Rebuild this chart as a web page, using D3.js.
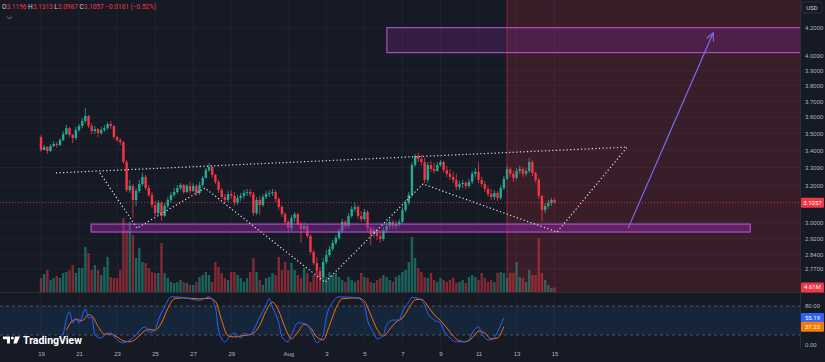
<!DOCTYPE html>
<html>
<head>
<meta charset="utf-8">
<script src="https://cdn.jsdelivr.net/npm/d3@7"></script>
<style>
  html, body { margin: 0; background: #161a25; }
  svg { display: block; font-family: Roboto, 'DejaVu Sans', sans-serif; }
</style>
</head>
<body>
<svg id="chart" width="825" height="362"></svg>
<script>
// 4h candles, index 0 = Jul 19 00:00
const firstOpen = 3.478;
const closes = [3.401,3.418,3.395,3.424,3.436,3.430,3.460,3.496,3.532,3.490,
  3.472,3.520,3.545,3.576,3.607,3.545,3.514,3.526,3.502,3.520,
  3.532,3.557,3.545,3.478,3.460,3.448,3.331,3.174,3.196,3.120,
  3.169,3.207,3.247,3.185,3.147,3.093,3.050,3.104,3.035,3.088,
  3.120,3.147,3.163,3.185,3.202,3.163,3.196,3.169,3.196,3.158,
  3.202,3.241,3.285,3.303,3.258,3.219,3.174,3.136,3.120,3.152,
  3.142,3.104,3.131,3.142,3.158,3.163,3.152,3.050,3.120,3.093,
  3.136,3.152,3.158,3.163,3.125,3.083,3.045,3.004,2.972,3.025,
  3.045,2.993,2.967,2.983,2.932,2.852,2.798,2.760,2.731,2.803,
  2.837,2.867,2.897,2.922,2.957,3.004,2.983,3.035,3.072,3.083,
  3.035,3.019,3.056,2.972,2.942,2.962,2.932,2.917,2.962,2.983,
  3.004,2.983,2.993,3.004,3.066,3.104,3.147,3.314,3.366,3.349,
  3.331,3.230,3.314,3.291,3.280,3.314,3.331,3.285,3.264,3.247,
  3.230,3.190,3.207,3.213,3.196,3.219,3.264,3.275,3.230,3.207,
  3.180,3.152,3.136,3.158,3.131,3.185,3.236,3.291,3.264,3.241,
  3.280,3.291,3.264,3.280,3.331,3.269,3.230,3.142,3.066,3.088,
  3.104,3.1196,3.1057];
const highs = [3.490,3.430,3.424,3.436,3.454,3.448,3.472,3.514,3.551,3.539,
  3.496,3.539,3.557,3.594,3.657,3.613,3.563,3.545,3.532,3.539,
  3.551,3.570,3.576,3.551,3.484,3.472,3.454,3.343,3.230,3.207,
  3.185,3.230,3.269,3.258,3.202,3.163,3.115,3.120,3.115,3.104,
  3.136,3.163,3.185,3.202,3.213,3.207,3.207,3.219,3.213,3.207,
  3.219,3.252,3.297,3.326,3.309,3.264,3.230,3.185,3.152,3.169,
  3.174,3.163,3.147,3.158,3.174,3.180,3.180,3.163,3.136,3.142,
  3.152,3.169,3.174,3.180,3.174,3.136,3.093,3.056,3.014,3.040,
  3.056,3.050,3.004,2.999,2.993,2.942,2.862,2.828,2.779,2.823,
  2.862,2.882,2.912,2.937,2.972,3.019,3.014,3.050,3.088,3.104,
  3.093,3.061,3.072,3.066,2.983,2.978,2.972,2.957,2.978,3.004,
  3.019,3.014,3.009,3.019,3.083,3.120,3.163,3.331,3.378,3.384,
  3.372,3.355,3.331,3.337,3.326,3.331,3.343,3.337,3.309,3.291,
  3.275,3.264,3.224,3.230,3.224,3.236,3.280,3.297,3.331,3.247,
  3.224,3.196,3.180,3.174,3.169,3.202,3.252,3.309,3.303,3.280,
  3.297,3.309,3.303,3.297,3.355,3.343,3.275,3.241,3.147,3.104,
  3.120,3.131,3.1313];
const lows = [3.390,3.400,3.378,3.390,3.418,3.413,3.424,3.454,3.490,3.478,
  3.442,3.460,3.508,3.532,3.563,3.532,3.496,3.496,3.478,3.490,
  3.508,3.520,3.526,3.466,3.448,3.430,3.320,3.163,3.158,3.025,
  3.088,3.158,3.196,3.174,3.136,3.077,3.035,3.040,3.009,3.028,
  3.077,3.104,3.136,3.152,3.174,3.152,3.158,3.152,3.163,3.142,
  3.147,3.190,3.236,3.275,3.241,3.207,3.158,3.125,3.104,3.109,
  3.125,3.088,3.093,3.115,3.125,3.142,3.136,3.035,3.040,3.040,
  3.083,3.125,3.136,3.142,3.109,3.066,3.030,2.988,2.947,2.957,
  3.004,2.983,2.897,2.962,2.922,2.842,2.789,2.751,2.712,2.721,
  2.794,2.828,2.857,2.887,2.912,2.947,2.967,2.972,3.025,3.056,
  3.019,3.004,3.009,2.957,2.887,2.927,2.912,2.897,2.907,2.947,
  2.967,2.967,2.967,2.978,2.993,3.056,3.093,3.136,3.303,3.331,
  3.309,3.213,3.213,3.275,3.264,3.275,3.303,3.269,3.247,3.230,
  3.213,3.174,3.174,3.185,3.180,3.185,3.207,3.247,3.213,3.190,
  3.163,3.136,3.120,3.120,3.115,3.120,3.174,3.230,3.247,3.219,
  3.230,3.264,3.247,3.252,3.269,3.252,3.213,3.125,3.004,3.050,
  3.072,3.088,3.0987];
// volume in millions
const volumes = [14,18,22,12,14,16,14,19,20,22,
  27,19,24,24,45,39,22,27,22,17,
  25,35,15,14,14,22,74,62,70,57,
  34,44,30,29,24,20,19,19,49,19,
  14,10,9,10,12,10,9,7,7,10,
  15,17,20,17,10,30,25,19,14,12,
  20,20,17,14,10,14,20,34,20,12,
  7,14,15,19,17,35,22,30,22,29,
  22,17,14,24,19,10,17,20,15,19,
  15,20,17,19,15,12,10,15,12,10,
  12,19,15,14,10,9,12,14,17,15,
  12,10,15,17,20,22,30,55,34,24,
  20,15,14,19,12,10,14,12,10,12,
  14,9,10,12,9,15,17,15,12,19,
  14,10,12,10,19,20,19,14,19,19,
  30,15,14,10,22,17,17,54,19,12,
  7,4,4.61];

// stochastic RSI, read at candle indexes
const kIdx = [7,9,10,11,12,14,15,16,17,19,21,22,24,26,27,30,32,33,34,36,37,39,41,43,46,50,53,55,56,58,
  60,61,63,64,66,67,69,71,72,73,75,76,78,79,81,82,84,86,87,89,90,92,94,96,100,102,103,105,106,108,
  109,111,113,114,116,117,119,121,122,124,126,127,129,131,133,135,136,138,139,141,142,144,145,146];
const kVal = [20,68,45,55,45,74,55,57,20,14,24,24,10,4,6,20,35,37,26,30,51,78,99,99,96,92,99,78,30,6,
  20,24,14,24,20,30,57,82,96,78,45,16,6,20,45,45,41,16,4,20,57,88,99,99,96,82,51,24,12,20,
  41,51,51,68,88,98,96,82,65,51,45,30,14,6,6,10,24,37,24,10,10,26,41,55.19];
const dIdx = [8,10,11,13,15,16,18,20,22,24,26,28,30,32,34,36,38,40,42,45,50,53,55,57,59,61,63,65,67,69,
  71,73,75,77,79,81,83,85,87,89,91,93,95,100,102,104,106,108,110,112,114,116,118,120,122,124,126,128,130,132,
  134,136,138,140,142,144,146];
const dVal = [30,50,52,50,62,60,38,22,22,16,8,6,12,25,32,30,45,75,95,97,95,96,90,50,18,16,18,20,24,40,
  70,88,70,35,12,26,42,35,16,10,40,75,95,97,90,62,32,18,32,47,55,75,93,94,80,62,50,35,18,8,
  6,14,28,24,12,14,37.22];

const dayIdx = [0,12,24,36,48,60,78,90,102,114,126,138,150,162];
const dayLabels = ['19','21','23','25','27','29','Aug','3','5','7','9','11','13','15'];
const priceTicks = [4.2,4.0,3.9,3.8,3.7,3.6,3.5,3.4,3.3,3.2,3.0,2.92,2.84,2.77];

// drawings: [candle index, price]
const wedgeTop = [[4.7,3.269],[184.9,3.418]];
const pattern = [[18.6,3.269],[30.3,2.972],[51.7,3.185],[89.6,2.707],[120.5,3.207],[162.8,2.952],[184.9,3.418]];
const targetBox = {from: 109.1, to: 260, top: 4.20, bottom: 4.023};
const supportBox = {from: 15.8, to: 223.7, top: 2.993, bottom: 2.952};
const arrowPts = [[185.2,2.972],[212,4.162]];
const shadeFrom = 147;

const upC = '#22ab94', downC = '#f23645';
const opens = closes.map((c, i) => i === 0 ? firstOpen : closes[i - 1]);
const candles = closes.map((c, i) => ({i, o: opens[i], h: highs[i], l: lows[i], c, v: volumes[i]}));

const svg = d3.select('#chart');
const x = d3.scaleLinear().domain([-12.93, 239.4]).range([0, 800]);
const y = d3.scaleLog().domain([4.2, 3.0]).range([27.7, 222.7]);
const vy = d3.scaleLinear().domain([0, 80]).range([292, 212]);
const oy = d3.scaleLinear().domain([0, 100]).range([344.7, 296.4]);

svg.append('rect').attr('width', 825).attr('height', 362).attr('fill', '#161a25');
const defs = svg.append('defs');
defs.append('clipPath').attr('id', 'mainClip').append('rect').attr('width', 800).attr('height', 292);
defs.append('clipPath').attr('id', 'oscClip').append('rect').attr('y', 293).attr('width', 800).attr('height', 56);

// grid
svg.append('g').selectAll('line').data(dayIdx).join('line')
  .attr('x1', d => x(d)).attr('x2', d => x(d)).attr('y1', 0).attr('y2', 348)
  .attr('stroke', '#1f2330').attr('stroke-width', 1);
svg.append('g').selectAll('line').data(priceTicks).join('line')
  .attr('x1', 0).attr('x2', 800).attr('y1', d => y(d)).attr('y2', d => y(d))
  .attr('stroke', '#1f2330').attr('stroke-width', 1);

const main = svg.append('g').attr('clip-path', 'url(#mainClip)');

// volume
main.append('g').selectAll('rect').data(candles).join('rect')
  .attr('x', d => x(d.i) - 1.2).attr('width', 2.4)
  .attr('y', d => vy(d.v)).attr('height', d => 292 - vy(d.v))
  .attr('fill', d => d.c >= d.o ? upC : downC).attr('opacity', 0.5);

// candles
const cg = main.append('g').selectAll('g').data(candles).join('g');
cg.append('line')
  .attr('x1', d => x(d.i)).attr('x2', d => x(d.i))
  .attr('y1', d => y(d.h)).attr('y2', d => y(d.l))
  .attr('stroke', d => d.c >= d.o ? upC : downC).attr('stroke-width', 0.8);
cg.append('rect')
  .attr('x', d => x(d.i) - 1.2).attr('width', 2.4)
  .attr('y', d => y(Math.max(d.o, d.c)))
  .attr('height', d => Math.max(1, Math.abs(y(d.o) - y(d.c))))
  .attr('fill', d => d.c >= d.o ? upC : downC);

// shaded region
main.append('rect').attr('x', x(shadeFrom)).attr('y', 0).attr('width', 800 - x(shadeFrom)).attr('height', 292)
  .attr('fill', '#f23645').attr('opacity', 0.16);
main.append('line').attr('x1', x(shadeFrom)).attr('x2', x(shadeFrom)).attr('y1', 0).attr('y2', 292)
  .attr('stroke', '#f23645').attr('opacity', 0.5);

// boxes
[[targetBox, 0.22], [supportBox, 0.42]].forEach(([b, op]) => {
  main.append('rect').attr('x', x(b.from)).attr('y', y(b.top))
    .attr('width', x(b.to) - x(b.from)).attr('height', y(b.bottom) - y(b.top))
    .attr('fill', '#9c27b0').attr('fill-opacity', op)
    .attr('stroke', '#c15ad6').attr('stroke-width', 1);
});

// last price line
main.append('line').attr('x1', 0).attr('x2', 800).attr('y1', y(3.1057)).attr('y2', y(3.1057))
  .attr('stroke', '#f23645').attr('stroke-dasharray', '1,2').attr('opacity', 0.8);

// dotted pattern lines
const pl = d3.line().x(d => x(d[0])).y(d => y(d[1]));
[wedgeTop, pattern].forEach(p => {
  main.append('path').attr('d', pl(p)).attr('fill', 'none')
    .attr('stroke', '#e0e3eb').attr('stroke-width', 1.2).attr('stroke-dasharray', '1.2,2.4');
});

// arrow
defs.append('marker').attr('id', 'arr').attr('viewBox', '0 0 10 10').attr('refX', 9).attr('refY', 5)
  .attr('markerWidth', 8).attr('markerHeight', 8).attr('orient', 'auto')
  .append('path').attr('d', 'M1,1 L9,5 L1,9').attr('fill', 'none').attr('stroke', '#7b6cf6').attr('stroke-width', 1.2);
main.append('path').attr('d', pl(arrowPts)).attr('stroke', '#7b6cf6').attr('stroke-width', 1.2)
  .attr('fill', 'none').attr('marker-end', 'url(#arr)');

// oscillator pane
const osc = svg.append('g').attr('clip-path', 'url(#oscClip)');
osc.append('rect').attr('x', 0).attr('width', 800).attr('y', oy(80)).attr('height', oy(20) - oy(80))
  .attr('fill', '#2196f3').attr('opacity', 0.1);
[80, 20].forEach(v => {
  osc.append('line').attr('x1', 0).attr('x2', 800).attr('y1', oy(v)).attr('y2', oy(v))
    .attr('stroke', '#787b86').attr('stroke-dasharray', '3,3').attr('opacity', 0.6);
});
const ol = d3.line().curve(d3.curveMonotoneX);
osc.append('path').attr('d', ol(dIdx.map((d, i) => [x(d), oy(dVal[i])])))
  .attr('fill', 'none').attr('stroke', '#ff6d00').attr('stroke-width', 1);
osc.append('path').attr('d', ol(kIdx.map((d, i) => [x(d), oy(kVal[i])])))
  .attr('fill', 'none').attr('stroke', '#2962ff').attr('stroke-width', 1);

// separators
svg.append('line').attr('x1', 0).attr('x2', 825).attr('y1', 292.5).attr('y2', 292.5).attr('stroke', '#2a2e39');
svg.append('line').attr('x1', 800.5).attr('x2', 800.5).attr('y1', 0).attr('y2', 348).attr('stroke', '#2a2e39');

// axes
const styleAxis = g => {
  g.select('.domain').remove();
  g.selectAll('text').attr('fill', '#b2b5be').attr('font-size', 6);
};
svg.append('g').attr('transform', 'translate(0,349)')
  .call(d3.axisBottom(x).tickValues(dayIdx).tickFormat((d, i) => dayLabels[i]).tickSize(0).tickPadding(3))
  .call(styleAxis);
svg.append('g').attr('transform', 'translate(803,0)')
  .call(d3.axisRight(y).tickValues(priceTicks).tickFormat(d3.format('.4f')).tickSize(0).tickPadding(2))
  .call(styleAxis);
svg.append('g').attr('transform', 'translate(803,0)')
  .call(d3.axisRight(oy).tickValues([80, 0]).tickFormat(d3.format('.2f')).tickSize(0).tickPadding(2))
  .call(styleAxis);

// value tags on the right
const tag = (yy, txt, fill) => {
  svg.append('rect').attr('x', 801).attr('y', yy - 5).attr('width', 23).attr('height', 10).attr('rx', 1).attr('fill', fill);
  svg.append('text').attr('x', 812.5).attr('y', yy).attr('dy', '0.35em').attr('text-anchor', 'middle')
    .attr('fill', '#fff').attr('font-size', 6).text(txt);
};
tag(y(3.1057), '3.1057', '#f23645');
tag(vy(4.61), '4.61M', '#f23645');
tag(oy(55.19), '55.19', '#2962ff');
tag(oy(37.22), '37.22', '#f57c00');

svg.append('rect').attr('x', 802).attr('y', 2).attr('width', 20).attr('height', 11).attr('rx', 2)
  .attr('fill', '#161a25').attr('stroke', '#2a2e39');
svg.append('text').attr('x', 812).attr('y', 7.5).attr('dy', '0.35em').attr('text-anchor', 'middle')
  .attr('fill', '#d1d4dc').attr('font-size', 6).text('USD');

// header OHLC
const hdr = svg.append('text').attr('x', 2).attr('y', 7).attr('dy', '0.35em').attr('font-size', 6.5);
[['O', '3.1196'], [' H', '3.1313'], [' L', '3.0987'], [' C', '3.1057'], [' ', '−0.0161 (−0.52%)']].forEach(([k, v]) => {
  hdr.append('tspan').attr('fill', '#d1d4dc').text(k);
  hdr.append('tspan').attr('fill', '#f23645').text(v);
});
svg.append('path').attr('d', 'M7,16.5 L9.5,19 L12,16.5').attr('fill', 'none').attr('stroke', '#9598a1').attr('stroke-width', 0.8);

// TradingView logo
const logo = svg.append('g').attr('fill', '#ffffff');
logo.append('path').attr('d', 'M3,336.5 h7 v7 h-3 v-4.2 h-4 z');
logo.append('circle').attr('cx', 12.3).attr('cy', 338).attr('r', 1.5);
logo.append('path').attr('d', 'M15,336.5 h5 l-3.2,7 h-3.4 z');
svg.append('text').attr('x', 23).attr('y', 344).attr('fill', '#ffffff').attr('font-size', 10.5)
  .attr('font-weight', 700).attr('textLength', 59).text('TradingView');
</script>
</body>
</html>
